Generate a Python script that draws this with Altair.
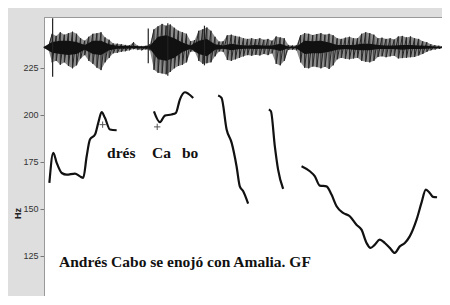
import altair as alt
import pandas as pd

# ---------- pitch contour (time in s, F0 in Hz) ----------
seg1_t = [0.033, 0.057, 0.078, 0.109, 0.139, 0.190, 0.221, 0.241, 0.262, 0.282, 0.313, 0.333, 0.354, 0.374, 0.405, 0.446]
seg1_hz = [163.8, 179.8, 174.5, 169.1, 168.2, 168.8, 167.3, 166.5, 178.0, 186.9, 189.5, 195.7, 201.4, 198.4, 192.2, 191.8]
seg2_t = [0.675, 0.712, 0.742, 0.783, 0.810, 0.834, 0.865, 0.885, 0.916]
seg2_hz = [201.9, 196.1, 199.6, 200.2, 201.1, 208.1, 212.0, 211.3, 209.0]
seg3_t = [1.069, 1.090, 1.121, 1.152, 1.182, 1.202, 1.223, 1.253]
seg3_hz = [210.3, 209.0, 192.2, 185.1, 172.7, 162.0, 159.4, 152.8]
seg4_t = [1.380, 1.393, 1.417, 1.437, 1.468]
seg4_hz = [202.8, 201.9, 183.3, 170.9, 160.6]
seg5_t = [1.581, 1.632, 1.663, 1.693, 1.734, 1.765, 1.796, 1.836, 1.877, 1.918, 1.949, 1.980, 2.004,
          2.031, 2.061, 2.092, 2.123, 2.153, 2.184, 2.215, 2.245, 2.287, 2.317, 2.344, 2.368, 2.388, 2.413]
seg5_hz = [172.7, 170.0, 167.3, 162.4, 162.0, 157.6, 151.4, 147.9, 146.1, 141.6, 139.0, 131.9, 129.3,
           131.0, 133.7, 131.9, 129.3, 126.6, 130.1, 131.9, 135.4, 144.3, 153.2, 160.3, 158.5, 156.4, 156.2]

cross_t = [0.360, 0.695]
cross_hz = [194.8, 193.6]

label_text = ["drés", "Ca", "bo", "Andrés Cabo se enojó con Amalia. GF"]
label_t = [0.387, 0.663, 0.847, 0.092]
label_hz = [176.8, 176.8, 176.8, 119.3]

y_ticks = [100, 125, 150, 175, 200, 225]
x_ticks = [0.5, 1.0, 1.5, 2.0]

# ---------- waveform envelope (relative amplitude) ----------
wave_t = [round(i * 0.025, 3) for i in range(100)]
wave_hi = [0.02, 0.05, 0.45, 0.38, 0.50, 0.42, 0.47, 0.52, 0.45, 0.30,
           0.22, 0.35, 0.45, 0.47, 0.50, 0.33, 0.25, 0.13, 0.12, 0.10,
           0.08, 0.07, 0.17, 0.05, 0.04, 0.05, 0.10, 0.60, 0.70, 0.78,
           0.72, 0.76, 0.65, 0.55, 0.50, 0.45, 0.20, 0.24, 0.55, 0.60,
           0.66, 0.55, 0.35, 0.19, 0.20, 0.40, 0.42, 0.38, 0.35, 0.30,
           0.28, 0.30, 0.27, 0.30, 0.25, 0.28, 0.22, 0.36, 0.33, 0.30,
           0.08, 0.06, 0.07, 0.40, 0.47, 0.45, 0.41, 0.44, 0.47, 0.42,
           0.45, 0.40, 0.30, 0.28, 0.32, 0.35, 0.30, 0.30, 0.45, 0.50,
           0.47, 0.42, 0.30, 0.32, 0.28, 0.30, 0.26, 0.36, 0.38, 0.33,
           0.36, 0.30, 0.28, 0.20, 0.17, 0.10, 0.07, 0.05, 0.04, 0.03]
wave_lo = [-0.02, -0.05, -0.50, -0.45, -0.58, -0.50, -0.62, -0.70, -0.60, -0.37,
           -0.26, -0.45, -0.55, -0.68, -0.76, -0.50, -0.35, -0.20, -0.18, -0.15,
           -0.13, -0.10, -0.06, -0.08, -0.10, -0.07, -0.10, -0.75, -0.85, -0.87,
           -0.90, -0.82, -0.70, -0.62, -0.58, -0.50, -0.15, -0.14, -0.45, -0.55,
           -0.53, -0.50, -0.30, -0.14, -0.15, -0.42, -0.45, -0.40, -0.35, -0.30,
           -0.26, -0.28, -0.25, -0.27, -0.22, -0.26, -0.20, -0.55, -0.60, -0.45,
           -0.09, -0.08, -0.10, -0.50, -0.68, -0.70, -0.64, -0.66, -0.70, -0.65,
           -0.72, -0.60, -0.40, -0.35, -0.38, -0.40, -0.37, -0.35, -0.45, -0.48,
           -0.50, -0.45, -0.32, -0.30, -0.33, -0.30, -0.28, -0.37, -0.36, -0.35,
           -0.33, -0.32, -0.27, -0.22, -0.15, -0.10, -0.07, -0.05, -0.04, -0.03]

core_t = [round(i * 0.05, 2) for i in range(50)]
core_hi = [0.02, 0.18, 0.22, 0.22, 0.18, 0.08, 0.22, 0.22, 0.10, 0.05,
           0.04, 0.05, 0.03, 0.05, 0.35, 0.40, 0.30, 0.16, 0.06, 0.22,
           0.28, 0.10, 0.06, 0.12, 0.08, 0.06, 0.08, 0.06, 0.06, 0.12,
           0.03, 0.03, 0.22, 0.20, 0.22, 0.16, 0.08, 0.08, 0.08, 0.12,
           0.12, 0.08, 0.06, 0.06, 0.08, 0.08, 0.06, 0.05, 0.03, 0.02]
core_lo = [-0.02, -0.18, -0.22, -0.26, -0.22, -0.08, -0.22, -0.26, -0.10, -0.05,
           -0.05, -0.03, -0.04, -0.05, -0.40, -0.45, -0.35, -0.16, -0.05, -0.22,
           -0.30, -0.08, -0.05, -0.10, -0.06, -0.05, -0.06, -0.05, -0.06, -0.12,
           -0.03, -0.04, -0.22, -0.20, -0.20, -0.15, -0.08, -0.06, -0.08, -0.10,
           -0.10, -0.06, -0.06, -0.06, -0.08, -0.06, -0.06, -0.05, -0.03, -0.02]

spike_t = [0.053, 0.640, 0.760, 0.985]
spike_hi = [0.97, 0.63, 0.80, 0.72]
spike_lo = [-0.98, -0.53, -0.95, -0.60]

# ---------- tables ----------
rows = []
for sid, (ts, hs) in enumerate([(seg1_t, seg1_hz), (seg2_t, seg2_hz), (seg3_t, seg3_hz),
                                (seg4_t, seg4_hz), (seg5_t, seg5_hz)]):
    for t, h in zip(ts, hs):
        rows.append({"t": t, "hz": h, "seg": sid})
contour_df = pd.DataFrame(rows)
cross_df = pd.DataFrame({"t": cross_t, "hz": cross_hz})
label_df = pd.DataFrame({"t": label_t, "hz": label_hz, "txt": label_text})
wave_df = pd.DataFrame({"t": wave_t, "hi": wave_hi, "lo": wave_lo})
core_df = pd.DataFrame({"t": core_t, "hi": core_hi, "lo": core_lo})
spike_df = pd.DataFrame({"t": spike_t, "hi": spike_hi, "lo": spike_lo})

# zig-zag trace through the envelope: each sample's top then its bottom
zz = []
for i, (t, h, l) in enumerate(zip(wave_t, wave_hi, wave_lo)):
    zz.append({"t": t, "a": h, "k": 2 * i})
    zz.append({"t": t, "a": l, "k": 2 * i + 1})
zig_df = pd.DataFrame(zz)

xscale = alt.Scale(domain=[0, 2.48], nice=False, zero=False)
xaxis = alt.Axis(values=x_ticks, labels=False, title=None, tickSize=5, grid=False,
                 domainColor="#999999", tickColor="#777777")
X = alt.X("t:Q", scale=xscale, axis=xaxis)

yscale = alt.Scale(domain=[100, 252], nice=False, zero=False)
yaxis = alt.Axis(values=y_ticks, title="Hz", grid=False, tickSize=4, labelPadding=2,
                 labelFontSize=9, labelColor="#333333", labelFont="Liberation Sans",
                 domainColor="#999999", tickColor="#777777",
                 titleFontSize=9, titleFont="Liberation Sans", titleFontWeight="bold",
                 titleColor="#222222", titleX=-27, titleY=196, titleAngle=270,
                 titleAlign="center", titleBaseline="middle")
Y = alt.Y("hz:Q", scale=yscale, axis=yaxis)

wscale = alt.Scale(domain=[-8.52, 1.01], nice=False, zero=False)

wave_outer = alt.Chart(wave_df).mark_area(color="#8c8c8c", interpolate="linear").encode(
    x=X, y=alt.Y("hi:Q", scale=wscale, axis=None), y2="lo:Q")
wave_zig = alt.Chart(zig_df).mark_line(color="#262626", strokeWidth=1).encode(
    x=X, y=alt.Y("a:Q", scale=wscale, axis=None), order="k:Q")
wave_core = alt.Chart(core_df).mark_area(color="#111111").encode(
    x=X, y=alt.Y("hi:Q", scale=wscale, axis=None), y2="lo:Q")
wave_spike = alt.Chart(spike_df).mark_rule(color="#222222", strokeWidth=1.2).encode(
    x=X, y=alt.Y("hi:Q", scale=wscale, axis=None), y2="lo:Q")
waveform = alt.layer(wave_outer, wave_zig, wave_core, wave_spike)

contour = alt.Chart(contour_df).mark_line(color="#111111", strokeWidth=2.2,
                                         interpolate="monotone").encode(
    x=X, y=Y, detail="seg:N")
crosses = alt.Chart(cross_df).mark_point(shape="M-1,0L1,0M0,-1L0,1", size=40, filled=False,
                                        color="#555555", strokeWidth=1, opacity=1).encode(
    x=X, y=Y)
labels = alt.Chart(label_df).mark_text(font="Liberation Serif", fontWeight="bold", fontSize=15.5,
                                      align="left", baseline="alphabetic", color="#111111").encode(
    x=X, y=Y, text="txt:N")
pitch = alt.layer(contour, crosses, labels)

chart = alt.layer(pitch, waveform).resolve_scale(y="independent").properties(
    width=404, height=286,
    autosize=alt.AutoSizeParams(type="none"),
    padding={"left": 36, "top": 9, "right": -6, "bottom": -7},
    background="#dedede",
).configure_view(fill="white", stroke="#999999", strokeWidth=1)

chart.save("out.html", embed_options={"renderer": "svg", "actions": False})
